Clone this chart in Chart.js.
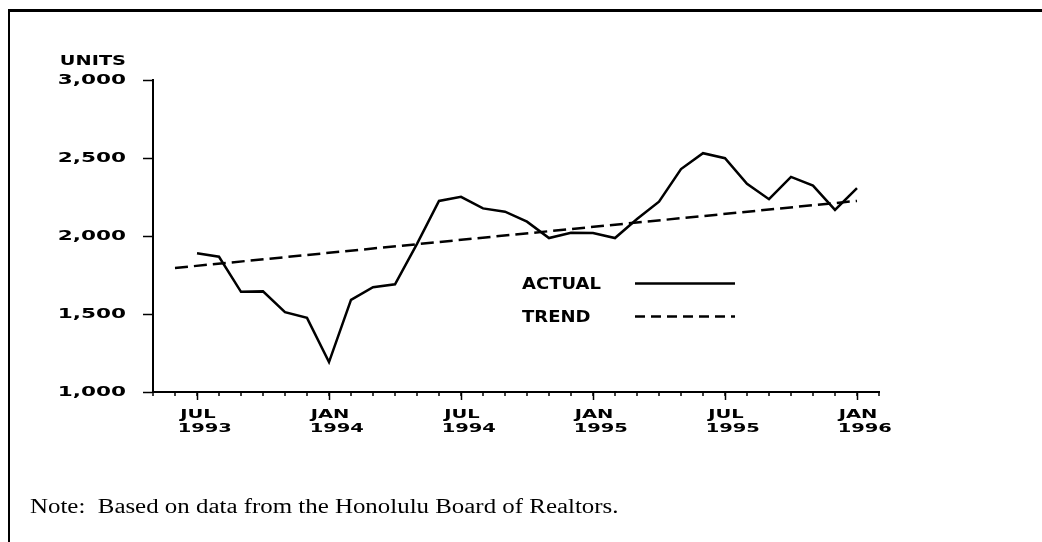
<!DOCTYPE html>
<html>
<head>
<meta charset="utf-8">
<script src="https://cdn.jsdelivr.net/npm/chart.js@4"></script>
<style>
html,body{margin:0;padding:0;background:#fff;}
#wrap{position:relative;width:1042px;height:542px;overflow:hidden;background:#fff;}
#frame{position:absolute;left:8px;top:9px;width:1100px;height:600px;border-top:3px solid #000;border-left:2px solid #000;}
#note{position:absolute;left:30px;top:495px;font-family:"Liberation Serif","Times New Roman",serif;font-size:20px;color:#000;white-space:pre;transform:scaleX(1.245);transform-origin:0 0;}
#c{position:absolute;left:0;top:0;}
</style>
</head>
<body>
<div id="wrap">
  <div id="frame"></div>
  <canvas id="c" width="1042" height="542"></canvas>
  <div id="note">Note:  Based on data from the Honolulu Board of Realtors.</div>
</div>
<script>
// ---- data ----
const months = [
  'May 1993','Jun 1993','Jul 1993','Aug 1993','Sep 1993','Oct 1993','Nov 1993','Dec 1993',
  'Jan 1994','Feb 1994','Mar 1994','Apr 1994','May 1994','Jun 1994','Jul 1994','Aug 1994',
  'Sep 1994','Oct 1994','Nov 1994','Dec 1994','Jan 1995','Feb 1995','Mar 1995','Apr 1995',
  'May 1995','Jun 1995','Jul 1995','Aug 1995','Sep 1995','Oct 1995','Nov 1995','Dec 1995',
  'Jan 1996','Feb 1996'
];
const actual = [
  null, null,
  1889, 1867, 1642, 1645, 1512, 1475,
  1192, 1591, 1672, 1690, 1950, 2225, 2251, 2177, 2156, 2092, 1987, 2021,
  2019, 1987, 2109, 2220, 2429, 2531, 2499, 2334, 2236, 2379, 2323, 2167,
  2307, null
];
const trend = [
  null, 1795,
  null, null, null, null, null, null,
  null, null, null, null, null, null, null, null, null, null, null, null,
  null, null, null, null, null, null, null, null, null, null, null, null,
  2225, null
];
const majorMonths = ['Jul 1993','Jan 1994','Jul 1994','Jan 1995','Jul 1995','Jan 1996'];
const majorLabels = [['JUL','  1993'],['JAN','  1994'],['JUL','  1994'],['JAN','  1995'],['JUL','  1995'],['JAN','  1996']];
const yTickValues = [1000, 1500, 2000, 2500, 3000];
const yTickLabels = ['1,000', '1,500', '2,000', '2,500', '3,000'];
const unitLabel = 'UNITS';
const legendNames = ['ACTUAL', 'TREND'];

// ---- extended-width text rendering (wide typewriter-style face) ----
const proto = CanvasRenderingContext2D.prototype;
const origFill = proto.fillText;
const SX = {'13px': 1.5, '14px': 1.54};
proto.fillText = function (t, x, y) {
  let sx = this.__sx;
  if (!sx) {
    const m = /(\d+)px/.exec(this.font);
    sx = m ? (SX[m[1] + 'px'] || 1) : 1;
  }
  if (sx === 1) return origFill.call(this, t, x, y);
  this.save();
  this.translate(x, y);
  this.scale(sx, 1);
  origFill.call(this, t, 0, 0);
  this.restore();
};

const FONT = '"DejaVu Sans", sans-serif';

const extras = {
  id: 'extras',
  afterDraw(chart) {
    const ctx = chart.ctx;
    const xs = chart.scales.x;
    const area = chart.chartArea;
    // minor monthly ticks
    ctx.save();
    ctx.strokeStyle = '#000';
    ctx.lineWidth = 1.5;
    for (let i = 0; i < months.length; i++) {
      const px = xs.getPixelForValue(i);
      ctx.beginPath();
      ctx.moveTo(px, area.bottom);
      ctx.lineTo(px, area.bottom + 4);
      ctx.stroke();
    }
    ctx.restore();

    // UNITS label
    ctx.save();
    ctx.fillStyle = '#000';
    ctx.font = 'bold 14px ' + FONT;
    ctx.textAlign = 'right';
    ctx.textBaseline = 'middle';
    ctx.__sx = 1.38;
    ctx.fillText(unitLabel, 126, 61);
    ctx.__sx = 0;
    ctx.restore();

    // legend
    ctx.save();
    ctx.fillStyle = '#000';
    ctx.font = 'bold 15px ' + FONT;
    ctx.textAlign = 'left';
    ctx.textBaseline = 'middle';
    ctx.__sx = 1.2;
    ctx.fillText(legendNames[0], 522, 285);
    ctx.fillText(legendNames[1], 522, 318);
    ctx.__sx = 0;
    ctx.strokeStyle = '#000';
    ctx.lineWidth = 2.5;
    ctx.beginPath();
    ctx.moveTo(635, 283.5);
    ctx.lineTo(735, 283.5);
    ctx.stroke();
    ctx.setLineDash([10, 6]);
    ctx.beginPath();
    ctx.moveTo(635, 316.5);
    ctx.lineTo(735, 316.5);
    ctx.stroke();
    ctx.restore();
  }
};

new Chart(document.getElementById('c'), {
  type: 'line',
  data: {
    labels: months,
    datasets: [
      {
        label: 'ACTUAL',
        data: actual,
        borderColor: '#000',
        borderWidth: 2.5,
        pointRadius: 0,
        tension: 0,
        fill: false,
        spanGaps: false
      },
      {
        label: 'TREND',
        data: trend,
        borderColor: '#000',
        borderWidth: 2.5,
        borderDash: [13, 6],
        pointRadius: 0,
        tension: 0,
        fill: false,
        spanGaps: true
      }
    ]
  },
  options: {
    responsive: false,
    animation: false,
    devicePixelRatio: 1,
    layout: { padding: { left: 0, right: 163, top: 80, bottom: 0 } },
    plugins: { legend: { display: false }, tooltip: { enabled: false } },
    scales: {
      x: {
        type: 'category',
        offset: false,
        afterFit(scale) { scale.height = 150; },
        grid: {
          display: true,
          drawOnChartArea: false,
          drawTicks: true,
          tickLength: 8,
          tickWidth: 1.5,
          tickColor: (c) => majorMonths.indexOf(months[c.index]) >= 0 ? '#000' : 'rgba(0,0,0,0)'
        },
        border: { display: true, color: '#000', width: 2 },
        ticks: {
          autoSkip: false,
          maxRotation: 0,
          minRotation: 0,
          padding: 7,
          labelOffset: 1,
          color: '#000',
          font: { family: FONT, size: 13, weight: 'bold', lineHeight: 1.1 },
          callback: function (value, index) {
            const i = majorMonths.indexOf(months[index]);
            return i >= 0 ? majorLabels[i] : '';
          }
        }
      },
      y: {
        min: 1000,
        max: 3000,
        afterFit(scale) { scale.width = 153; },
        afterBuildTicks(scale) { scale.ticks = yTickValues.map(v => ({ value: v })); },
        grid: {
          display: true,
          drawOnChartArea: false,
          drawTicks: true,
          tickLength: 10,
          tickWidth: 1.5,
          tickColor: '#000'
        },
        border: { display: true, color: '#000', width: 2 },
        ticks: {
          padding: 17,
          color: '#000',
          font: { family: FONT, size: 14, weight: 'bold' },
          callback: function (value) {
            const i = yTickValues.indexOf(value);
            return i >= 0 ? yTickLabels[i] : '';
          }
        }
      }
    }
  },
  plugins: [extras]
});
</script>
</body>
</html>
